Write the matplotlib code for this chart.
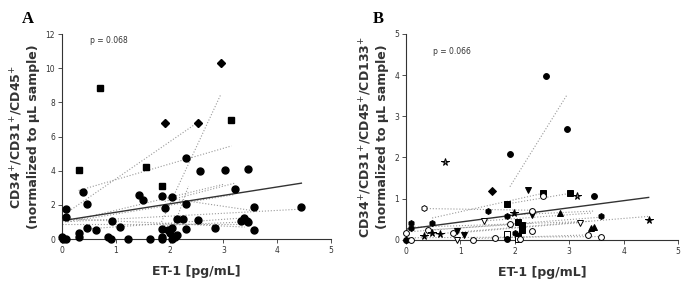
import numpy as np
import matplotlib.pyplot as plt

# ---- panel A data ----
a_x = [0, 0.02, 0.08, 0.08, 0.08, 0.31, 0.31, 0.31, 0.39, 0.47, 0.47, 0.63, 0.70,
       0.86, 0.92, 0.93, 1.07, 1.22, 1.43, 1.51, 1.57, 1.64, 1.85, 1.85, 1.85, 1.85,
       1.85, 1.91, 1.92, 1.97, 2.0, 2.05, 2.05, 2.05, 2.10, 2.13, 2.13, 2.25, 2.31,
       2.31, 2.31, 2.52, 2.52, 2.57, 2.84, 2.95, 3.03, 3.15, 3.21, 3.32, 3.39, 3.43,
       3.45, 3.45, 3.57, 3.57, 4.45]
a_y = [0.1, 0, 0, 1.75, 1.29, 4.05, 0.35, 0.12, 2.77, 2.07, 0.66, 0.51, 8.83,
       0.12, 0, 1.05, 0.70, 0, 2.59, 2.30, 4.21, 0, 3.12, 2.49, 0.58, 0.12,
       0, 6.82, 1.81, 0.55, 0.35, 2.45, 0.66, 0, 0.12, 1.17, 0.23, 1.17, 4.75,
       2.07, 0.58, 6.82, 1.13, 3.97, 0.62, 10.29, 4.05, 6.97, 2.92, 1.05, 1.23, 1.07,
       4.09, 0.97, 1.87, 0.55, 1.87]
a_mk = ['o'] * len(a_x)
for i in [5, 12, 20, 22, 47]:
    a_mk[i] = 's'
for i in [27, 45, 41]:
    a_mk[i] = 'D'

# per-patient regression lines (x0, y0, x1, y1)
a_lines = [
    (0.08, 1.52, 2.52, 6.82),
    (0.31, 2.84, 3.15, 5.45),
    (1.85, 1.00, 2.95, 8.45),
    (2.00, 0.00, 2.35, 3.10),
    (1.85, 2.45, 3.57, 1.65),
    (1.91, 2.20, 3.21, 3.27),
    (0.10, 1.00, 3.00, 3.20),
    (0.00, 0.90, 3.50, 0.90),
    (0.00, 1.00, 4.45, 1.75),
    (0.50, 0.60, 3.45, 1.25),
    (1.90, 0.80, 3.40, 1.00),
    (0.30, 1.10, 3.20, 2.60),
    (0.00, 1.20, 3.40, 0.70),
]
a_fit = (0.0, 1.07, 4.45, 3.27)

# ---- panel B data ----
b_x = [0, 0, 0.09, 0.09, 0.09, 0.33, 0.33, 0.40, 0.48, 0.48, 0.63, 0.71, 0.86,
       0.93, 0.93, 1.07, 1.23, 1.44, 1.51, 1.58, 1.64, 1.85, 1.85, 1.85, 1.85,
       1.91, 1.91, 1.99, 2.0, 2.06, 2.06, 2.06, 2.10, 2.13, 2.13, 2.25, 2.31,
       2.31, 2.31, 2.52, 2.52, 2.58, 2.83, 2.96, 3.02, 3.15, 3.20, 3.34, 3.40,
       3.46, 3.46, 3.58, 3.58, 4.46]
b_y = [0, 0.16, 0, 0.40, 0.28, 0.77, 0.10, 0.24, 0.16, 0.40, 0.14, 1.89, 0.16,
       0.22, 0, 0.11, 0, 0.46, 0.70, 1.19, 0.05, 0.87, 0.58, 0.14, 0.03,
       2.08, 0.39, 0.65, 0.16, 0.44, 0.10, 0.03, 0.03, 0.36, 0.24, 1.21, 0.61,
       0.70, 0.22, 1.13, 1.07, 3.98, 0.66, 2.69, 1.13, 1.07, 0.40, 0.11, 0.30,
       0.32, 1.07, 0.57, 0.06, 0.49]
b_mk = ['o', 'o', 'o', 'h', 'h', 'h', '*', 'o', '*', 'h', '*', '*', 'o',
        'v', 'v', 'v', 'o', 'v', 'h', 'D', 'o', 's', 'h', 's', 'o',
        'o', 'o', '*', 'h', 's', 's', 's', 'o', 's', 's', 'v', 'v',
        'o', 'o', 's', 'o', 'o', '^', 'o', 's', '*', 'v', 'o', '^',
        '^', 'o', 'h', 'o', '*']
b_fill = ['k', 'w', 'w', 'k', 'k', 'w', 'k', 'w', 'k', 'k', 'k', 'gray', 'w',
          'k', 'w', 'k', 'w', 'w', 'k', 'k', 'w', 'k', 'k', 'w', 'k',
          'k', 'w', 'k', 'k', 'k', 'k', 'w', 'w', 'k', 'k', 'k', 'k',
          'w', 'w', 'k', 'w', 'k', 'k', 'k', 'k', 'gray', 'w', 'w', 'k',
          'k', 'k', 'k', 'w', 'k']

b_lines = [
    (1.91, 1.29, 2.96, 3.52),
    (0.33, 0.76, 2.31, 0.72),
    (0.48, 0.53, 2.52, 1.13),
    (1.85, 0.87, 3.02, 1.13),
    (0.33, 0.12, 4.46, 0.57),
    (0.00, 0.30, 3.40, 0.45),
    (0.10, 0.20, 3.58, 0.55),
    (0.86, 0.16, 3.20, 0.42),
    (0.00, 0.05, 3.58, 0.08),
    (1.23, 0.03, 3.34, 0.12),
    (1.44, 0.46, 3.40, 0.65),
    (0.40, 0.24, 2.31, 0.40),
    (1.85, 0.60, 3.46, 0.70),
]
b_fit = (0.0, 0.26, 4.46, 1.03)

fig = plt.figure(figsize=(6.94, 2.89), dpi=100)
axA = fig.add_axes([0.0893, 0.173, 0.3876, 0.709])
axB = fig.add_axes([0.585, 0.170, 0.392, 0.713])


def style(ax, ymax, ystep):
    ax.set_xlim(0, 5)
    ax.set_ylim(0, ymax)
    ax.set_xticks(range(0, 6))
    ax.set_yticks(np.arange(0, ymax + 0.01, ystep))
    for s in ['top', 'right']:
        ax.spines[s].set_visible(False)
    for s in ['left', 'bottom']:
        ax.spines[s].set_linewidth(0.8)
        ax.spines[s].set_color('#333333')
    ax.tick_params(direction='out', length=3, width=0.6, labelsize=5.5,
                   colors='#333333', pad=2)
    ax.set_xlabel('ET-1 [pg/mL]', fontsize=9, fontweight='bold',
                  color='#333333', labelpad=7)


for x0, y0, x1, y1 in a_lines:
    axA.plot([x0, x1], [y0, y1], ls=':', lw=0.8, color='#999999')
axA.plot([a_fit[0], a_fit[2]], [a_fit[1], a_fit[3]], color='#333333', lw=1.0)
for x, y, m in zip(a_x, a_y, a_mk):
    axA.plot(x, y, marker=m, color='k', ms=5.0 if m != 'D' else 4.4,
             ls='none', clip_on=False, zorder=3)
style(axA, 12, 2)
axA.set_ylabel('CD34$^{+}$/CD31$^{+}$/CD45$^{+}$\n(normalized to µL sample)',
               fontsize=9, fontweight='bold', color='#333333', labelpad=4)
axA.text(0.52, 11.6, 'p = 0.068', fontsize=5.5, color='#333333', va='center')

for x0, y0, x1, y1 in b_lines:
    axB.plot([x0, x1], [y0, y1], ls=':', lw=0.8, color='#999999')
axB.plot([b_fit[0], b_fit[2]], [b_fit[1], b_fit[3]], color='#333333', lw=1.0)
for x, y, m, f in zip(b_x, b_y, b_mk, b_fill):
    sz = 5.5 if m == '*' else 4.2
    axB.plot(x, y, marker=m, mfc=f, mec='k', mew=0.7, ms=sz,
             ls='none', clip_on=False, zorder=3)
style(axB, 5, 1)
axB.set_ylabel('CD34$^{+}$/CD31$^{+}$/CD45$^{+}$/CD133$^{+}$\n(normalized to µL sample)',
               fontsize=9, fontweight='bold', color='#333333', labelpad=4)
axB.text(0.49, 4.56, 'p = 0.066', fontsize=5.5, color='#333333', va='center')

fig.text(0.032, 0.935, 'A', fontsize=12, fontweight='bold',
         family='Liberation Serif', va='center')
fig.text(0.537, 0.935, 'B', fontsize=12, fontweight='bold',
         family='Liberation Serif', va='center')

fig.savefig('out.png', dpi=100)
